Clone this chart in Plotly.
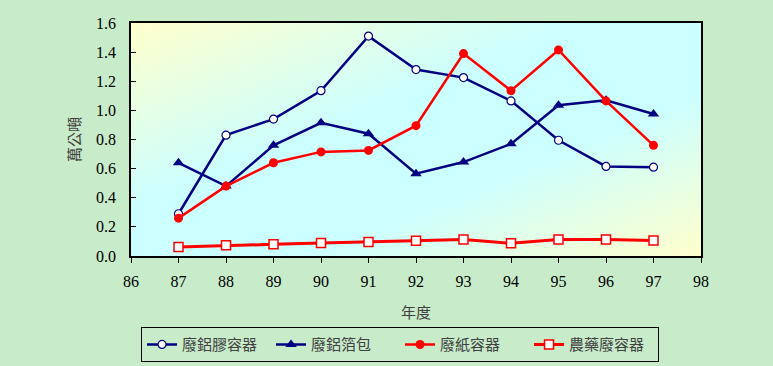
import base64
import plotly.graph_objects as go

years = [87, 88, 89, 90, 91, 92, 93, 94, 95, 96, 97]
s_names = ["廢鋁膠容器", "廢鋁箔包", "廢紙容器", "農藥廢容器"]
alu_plastic = [0.29, 0.83, 0.94, 1.135, 1.51, 1.28, 1.225, 1.065, 0.795, 0.615, 0.61]
alu_foil = [0.64, 0.48, 0.76, 0.915, 0.84, 0.565, 0.645, 0.77, 1.035, 1.07, 0.975]
paper_cont = [0.26, 0.48, 0.64, 0.715, 0.725, 0.895, 1.39, 1.135, 1.415, 1.065, 0.76]
pesticide = [0.062, 0.073, 0.08, 0.089, 0.096, 0.105, 0.113, 0.087, 0.113, 0.113, 0.106]

y_title = "萬公噸"
x_title = "年度"

NAVY = "#000080"
RED = "#FF0000"
CJK = "Noto Sans CJK TC, sans-serif"
SERIF = "Liberation Serif, Times New Roman, serif"
PAPER = "rgb(200,235,202)"

svg = ('<svg xmlns="http://www.w3.org/2000/svg" width="570" height="233" preserveAspectRatio="none">'
       '<defs><linearGradient id="g" x1="0" y1="0" x2="1" y2="1">'
       '<stop offset="0" stop-color="#FFFFCC"/>'
       '<stop offset="0.4" stop-color="#CCFFFF"/>'
       '<stop offset="0.65" stop-color="#CCFFFF"/>'
       '<stop offset="1" stop-color="#FFFFCC"/>'
       '</linearGradient></defs>'
       '<rect width="570" height="233" fill="url(#g)"/></svg>')
src = "data:image/svg+xml;base64," + base64.b64encode(svg.encode()).decode()

fig = go.Figure()
fig.add_trace(go.Scatter(x=years, y=alu_plastic, name=s_names[0], mode="lines+markers",
                         line=dict(color=NAVY, width=2.5),
                         marker=dict(symbol="circle", size=8, color="white",
                                     line=dict(color=NAVY, width=1.2))))
fig.add_trace(go.Scatter(x=years, y=alu_foil, name=s_names[1], mode="lines+markers",
                         line=dict(color=NAVY, width=2.5),
                         marker=dict(symbol="triangle-up", size=10, color=NAVY)))
fig.add_trace(go.Scatter(x=years, y=paper_cont, name=s_names[2], mode="lines+markers",
                         line=dict(color=RED, width=2.5),
                         marker=dict(symbol="circle", size=9, color=RED)))
fig.add_trace(go.Scatter(x=years, y=pesticide, name=s_names[3], mode="lines+markers",
                         line=dict(color=RED, width=3),
                         marker=dict(symbol="square", size=9, color="white",
                                     line=dict(color=RED, width=1.5))))

fig.update_layout(
    width=773, height=366,
    margin=dict(l=131, r=72, t=23, b=110, autoexpand=False),
    paper_bgcolor=PAPER,
    plot_bgcolor="rgba(0,0,0,0)",
    showlegend=True,
    images=[dict(source=src, xref="paper", yref="paper", x=0, y=1, sizex=1, sizey=1,
                 sizing="stretch", layer="below")],
    legend=dict(orientation="h", x=0.472, xanchor="center",
                yref="container", y=0.106, yanchor="top",
                bgcolor=PAPER, bordercolor="black", borderwidth=1,
                font=dict(family=CJK, size=15, color="#404040"),
                entrywidth=84, itemwidth=30, tracegroupgap=0),
    xaxis=dict(range=[86, 98], dtick=1, tick0=86, showgrid=False, zeroline=False,
               showline=True, linecolor="black", linewidth=1.5, mirror=True,
               ticks="outside", ticklen=5, tickcolor="black",
               tickfont=dict(family=SERIF, size=16, color="black"),
               ticklabelstandoff=5,
               title=dict(text=x_title, font=dict(family=CJK, size=15, color="#404040"),
                          standoff=19)),
    yaxis=dict(range=[0, 1.6], dtick=0.2, tick0=0, tickformat=".1f", showgrid=False,
               zeroline=False, showline=True, linecolor="black", linewidth=1.5, mirror=True,
               ticks="inside", ticklen=5, tickcolor="black",
               tickfont=dict(family=SERIF, size=16, color="black"),
               ticklabelstandoff=10,
               title=dict(text=y_title, font=dict(family=CJK, size=15, color="#404040"),
                          standoff=12)),
)

fig.write_html("out.html", config={"displayModeBar": False},
               post_script="document.body.style.margin='0';document.body.style.overflow='hidden';")
